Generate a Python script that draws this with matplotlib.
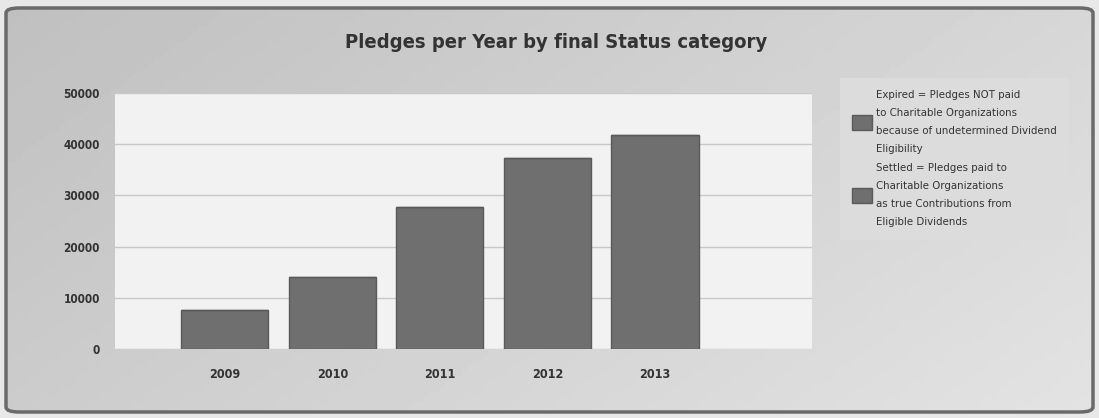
import matplotlib.pyplot as plt
from matplotlib.patches import FancyBboxPatch
import numpy as np

plt.rcParams['font.family'] = ['DejaVu Sans']
plt.rcParams['font.stretch'] = 'condensed'

years = ['2009', '2010', '2011', '2012', '2013']
settled = [7600, 14050, 27700, 37300, 41800]
expired = [0, 0, 0, 0, 0]
yticks = [0, 10000, 20000, 30000, 40000, 50000]

lbl_expired = ("Expired = Pledges NOT paid\nto Charitable Organizations\n"
               "because of undetermined Dividend\nEligibility")
lbl_settled = ("Settled = Pledges paid to\nCharitable Organizations\n"
               "as true Contributions from\nEligible Dividends")

W, H = 1099, 418
fig = plt.figure(figsize=(W / 100, H / 100), dpi=100)
fig.patch.set_facecolor('#e8e8e8')

# background gradient inside a rounded frame
bg = fig.add_axes([0, 0, 1, 1], zorder=-20)
bg.set_axis_off()
gx, gy = np.meshgrid(np.linspace(0, 1, 200), np.linspace(0, 1, 80))
grad = 0.75 + 0.14 * (0.65 * gx + 0.35 * gy)
im = bg.imshow(grad, cmap='gray', vmin=0, vmax=1, extent=(0, 1, 0, 1),
               aspect='auto', transform=fig.transFigure)
frame = FancyBboxPatch((6 / W, 6 / H), 1 - 12 / W, 1 - 14 / H,
                       boxstyle="round,pad=0,rounding_size=0.012",
                       transform=fig.transFigure, facecolor='none',
                       edgecolor='#6a6a6a', lw=2.5)
bg.add_patch(frame)
im.set_clip_path(frame)

# plot area in pixel coords
left, right, top, bottom = 115, 812, 93, 349
ax = fig.add_axes([left / W, 1 - bottom / H, (right - left) / W, (bottom - top) / H])
ax.set_facecolor('#f2f2f2')

x = np.arange(len(years))
bar_c = '#6f6f6f'
ax.bar(x, settled, width=0.81, color=bar_c, edgecolor='#5a5a5a', lw=1, zorder=3,
       label=lbl_settled)
ax.bar(x, expired, bottom=settled, width=0.81, color=bar_c, edgecolor='#5a5a5a',
       lw=1, zorder=3, label=lbl_expired)

ax.set_xlim(-1.02, 5.46)
ax.set_ylim(0, 50000)
ax.set_yticks(yticks)
ax.set_yticklabels([str(v) for v in yticks], fontsize=8.5, color='#333333',
                   fontweight='bold')
ax.set_xticks(x)
ax.set_xticklabels(years, fontsize=9, color='#333333', fontweight='bold')
ax.tick_params(axis='both', length=0)
ax.tick_params(axis='y', pad=11)
ax.tick_params(axis='x', pad=14)
ax.grid(axis='y', color='#c8c8c8', lw=1, zorder=0)
for s in ax.spines.values():
    s.set_visible(False)

fig.text(556 / W, 1 - 42 / H, 'Pledges per Year by final Status category',
         fontsize=14.5, fontweight='bold', color='#333333', ha='center', va='center')

h, l = ax.get_legend_handles_labels()
leg = fig.legend(h[::-1], l[::-1], loc='upper left',
                 bbox_to_anchor=(834 / W, 1 - 72 / H), fontsize=8.2,
                 frameon=True, facecolor='#dcdcdc', edgecolor='none',
                 fancybox=False, handlelength=1.7, handleheight=1.6,
                 handletextpad=0.4, labelspacing=0.8, borderpad=1.1,
                 labelcolor='#333333')
leg.get_frame().set_alpha(1)
for t in leg.get_texts():
    t.set_linespacing(2.0)

fig.savefig('out.png', dpi=100)
